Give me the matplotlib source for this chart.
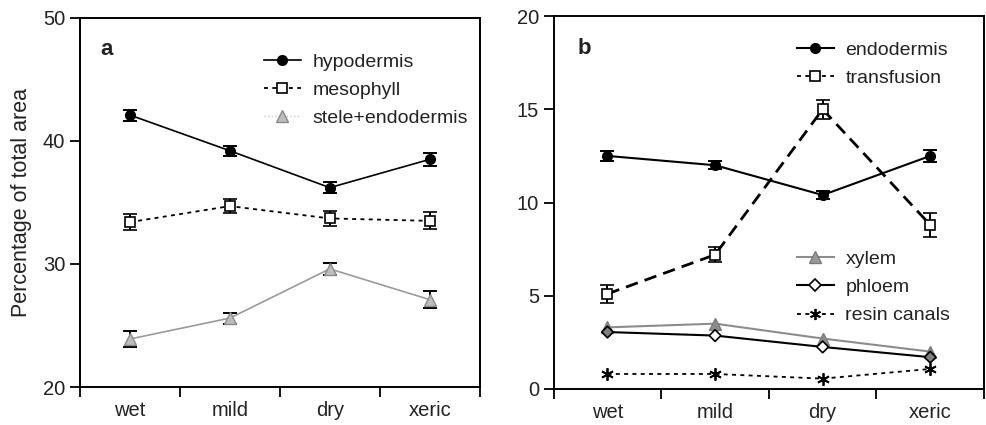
import matplotlib
matplotlib.use("Agg")
import matplotlib.pyplot as plt
from matplotlib.lines import Line2D

plt.rcParams['font.family'] = ['Liberation Sans', 'DejaVu Sans']

conditions = ["wet", "mild", "dry", "xeric"]

# panel a
hypodermis = [42.1, 39.2, 36.2, 38.5]
hypodermis_err = [0.45, 0.4, 0.45, 0.5]
mesophyll = [33.4, 34.7, 33.7, 33.5]
mesophyll_err = [0.65, 0.55, 0.6, 0.7]
stele = [23.9, 25.6, 29.6, 27.1]
stele_err = [0.65, 0.45, 0.5, 0.7]

# panel b
endodermis = [12.5, 12.0, 10.4, 12.5]
endodermis_err = [0.27, 0.22, 0.2, 0.3]
transfusion = [5.1, 7.2, 15.0, 8.8]
transfusion_err = [0.5, 0.4, 0.5, 0.65]
xylem = [3.3, 3.5, 2.7, 2.0]
phloem = [3.05, 2.86, 2.25, 1.7]
phloem_face = ["#808080", "white", "white", "#808080"]
resin = [0.8, 0.8, 0.55, 1.07]

fig = plt.figure(figsize=(9.87, 4.25), dpi=100)
axa = fig.add_axes([0.081, 0.0894, 0.405, 0.8686])
axb = fig.add_axes([0.561, 0.085, 0.436, 0.877])

x = [i + 0.5 for i in range(len(conditions))]
fs = 14.5
lfs = 14
txt = "#222222"
ebkw = dict(capsize=5, elinewidth=1.4, capthick=1.4, ecolor="black")
dots = (0, (2.2, 2.4))
legkw = dict(loc="upper left", frameon=False, fontsize=lfs, borderpad=0,
             borderaxespad=0, handlelength=1.9, handletextpad=0.6,
             labelspacing=0.55, labelcolor=txt)


def style(ax, ylim, yticks):
    ax.set_xlim(0, 4)
    ax.set_ylim(*ylim)
    ax.set_yticks(yticks)
    ax.set_xticks(range(5))
    ax.set_xticklabels([])
    ax.set_xticks(x, minor=True)
    ax.set_xticklabels(conditions, minor=True)
    ax.tick_params(axis="x", which="major", direction="out", length=7, width=1.3)
    ax.tick_params(axis="x", which="minor", length=0, pad=10, labelsize=fs, labelcolor=txt)
    ax.tick_params(axis="y", direction="out", length=7, width=1.3, labelsize=fs, labelcolor=txt)
    for s in ax.spines.values():
        s.set_linewidth(1.4)


# ---- panel a ----
axa.errorbar(x, hypodermis, yerr=hypodermis_err, color="black", lw=1.2,
             marker="o", ms=7, mfc="black", mec="black", **ebkw, zorder=3)
axa.errorbar(x, mesophyll, yerr=mesophyll_err, color="black", lw=1.3,
             linestyle=dots, marker="s", ms=7, mfc="white", mec="black",
             mew=1.2, **ebkw, zorder=3)
axa.errorbar(x, stele, yerr=stele_err, color="#9a9a9a", lw=1.2,
             marker="^", ms=8, mfc="#bdbdbd", mec="#8a8a8a", **ebkw, zorder=3)
style(axa, (20, 50), [20, 30, 40, 50])
axa.set_ylabel("Percentage of total area", fontsize=15.5, color=txt, labelpad=8)
axa.text(0.05, 0.913, "a", transform=axa.transAxes, fontsize=fs + 1.5,
         fontweight="bold", va="center", color=txt)

ha = [Line2D([], [], color="black", lw=1.2, marker="o", ms=7, mfc="black"),
      Line2D([], [], color="black", lw=1.3, linestyle=dots, marker="s",
             ms=7, mfc="white", mew=1.2),
      Line2D([], [], color="#c8c8c8", lw=1.0, linestyle=":", marker="^", ms=8,
             mfc="#bdbdbd", mec="#8a8a8a")]
axa.legend(ha, ["hypodermis", "mesophyll", "stele+endodermis"],
           bbox_to_anchor=(0.46, 0.905), **legkw)

# ---- panel b ----
axb.errorbar(x, endodermis, yerr=endodermis_err, color="black", lw=1.5,
             marker="o", ms=7, mfc="black", mec="black", **ebkw, zorder=4)
axb.errorbar(x, transfusion, yerr=transfusion_err, color="black", lw=2,
             linestyle=(0, (4.5, 2.6)), marker="s", ms=7.5, mfc="white", mec="black",
             mew=1.2, **ebkw, zorder=4)
axb.plot(x, xylem, color="#8c8c8c", lw=1.5, marker="^", ms=8, mfc="#8c8c8c",
         mec="#7a7a7a", zorder=3)
axb.plot(x, phloem, color="black", lw=1.5, zorder=3)
axb.scatter(x, phloem, marker="D", s=35, c=phloem_face, edgecolors="black",
            linewidths=1.2, zorder=4)
axb.plot(x, resin, color="black", lw=1.3, linestyle=dots,
         marker=(6, 2, 0), ms=9, mew=1.3, zorder=3)
style(axb, (0, 20), [0, 5, 10, 15, 20])
axb.text(0.056, 0.914, "b", transform=axb.transAxes, fontsize=fs + 1.5,
         fontweight="bold", va="center", color=txt)

hb1 = [Line2D([], [], color="black", lw=1.5, marker="o", ms=7, mfc="black"),
       Line2D([], [], color="black", lw=1.3, linestyle=dots, marker="s",
              ms=7, mfc="white", mew=1.2)]
leg1 = axb.legend(hb1, ["endodermis", "transfusion"],
                  bbox_to_anchor=(0.565, 0.933), **legkw)
axb.add_artist(leg1)
hb2 = [Line2D([], [], color="#8c8c8c", lw=1.5, marker="^", ms=8, mfc="#9a9a9a",
              mec="#7a7a7a"),
       Line2D([], [], color="black", lw=1.5, marker="D", ms=6, mfc="white", mew=1.2),
       Line2D([], [], color="black", lw=1.3, linestyle=dots,
              marker=(6, 2, 0), ms=8, mew=1.3)]
axb.legend(hb2, ["xylem", "phloem", "resin canals"],
           bbox_to_anchor=(0.565, 0.372), **legkw)

fig.savefig("out.png", dpi=100)
